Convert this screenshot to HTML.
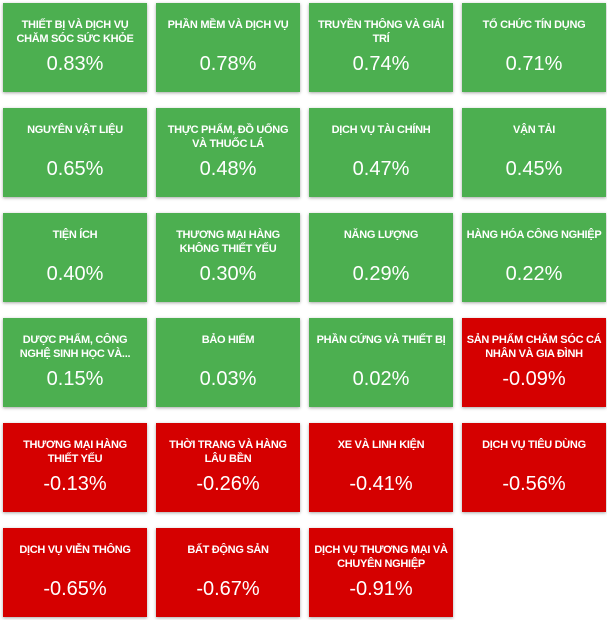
<!DOCTYPE html>
<html><head><meta charset="utf-8"><style>
body{margin:0;width:607px;height:620px;background:#fff;position:relative;font-family:"Liberation Sans",Arial,sans-serif;overflow:hidden}
.t{position:absolute;width:144px;height:89px;color:#fff;box-shadow:0 1px 3px rgba(0,0,0,.35)}
.g{background:#4caf50}.r{background:#d50000}
.n{position:absolute;left:-10px;right:-10px;top:15px;text-align:center;font-weight:bold;font-size:11px;line-height:14px;letter-spacing:-0.3px;white-space:nowrap}
.v{position:absolute;left:0;right:0;top:49px;text-align:center;font-size:20px;line-height:24px}
</style></head><body>
<div class="t g" style="left:3px;top:3px"><div class="n">THIẾT BỊ VÀ DỊCH VỤ<br>CHĂM SÓC SỨC KHỎE</div><div class="v">0.83%</div></div>
<div class="t g" style="left:156px;top:3px"><div class="n">PHẦN MỀM VÀ DỊCH VỤ</div><div class="v">0.78%</div></div>
<div class="t g" style="left:309px;top:3px"><div class="n">TRUYỀN THÔNG VÀ GIẢI<br>TRÍ</div><div class="v">0.74%</div></div>
<div class="t g" style="left:462px;top:3px"><div class="n">TỔ CHỨC TÍN DỤNG</div><div class="v">0.71%</div></div>
<div class="t g" style="left:3px;top:108px"><div class="n">NGUYÊN VẬT LIỆU</div><div class="v">0.65%</div></div>
<div class="t g" style="left:156px;top:108px"><div class="n">THỰC PHẨM, ĐỒ UỐNG<br>VÀ THUỐC LÁ</div><div class="v">0.48%</div></div>
<div class="t g" style="left:309px;top:108px"><div class="n">DỊCH VỤ TÀI CHÍNH</div><div class="v">0.47%</div></div>
<div class="t g" style="left:462px;top:108px"><div class="n">VẬN TẢI</div><div class="v">0.45%</div></div>
<div class="t g" style="left:3px;top:213px"><div class="n">TIỆN ÍCH</div><div class="v">0.40%</div></div>
<div class="t g" style="left:156px;top:213px"><div class="n">THƯƠNG MẠI HÀNG<br>KHÔNG THIẾT YẾU</div><div class="v">0.30%</div></div>
<div class="t g" style="left:309px;top:213px"><div class="n">NĂNG LƯỢNG</div><div class="v">0.29%</div></div>
<div class="t g" style="left:462px;top:213px"><div class="n">HÀNG HÓA CÔNG NGHIỆP</div><div class="v">0.22%</div></div>
<div class="t g" style="left:3px;top:318px"><div class="n">DƯỢC PHẨM, CÔNG<br>NGHỆ SINH HỌC VÀ...</div><div class="v">0.15%</div></div>
<div class="t g" style="left:156px;top:318px"><div class="n">BẢO HIỂM</div><div class="v">0.03%</div></div>
<div class="t g" style="left:309px;top:318px"><div class="n">PHẦN CỨNG VÀ THIẾT BỊ</div><div class="v">0.02%</div></div>
<div class="t r" style="left:462px;top:318px"><div class="n">SẢN PHẨM CHĂM SÓC CÁ<br>NHÂN VÀ GIA ĐÌNH</div><div class="v">-0.09%</div></div>
<div class="t r" style="left:3px;top:423px"><div class="n">THƯƠNG MẠI HÀNG<br>THIẾT YẾU</div><div class="v">-0.13%</div></div>
<div class="t r" style="left:156px;top:423px"><div class="n">THỜI TRANG VÀ HÀNG<br>LÂU BỀN</div><div class="v">-0.26%</div></div>
<div class="t r" style="left:309px;top:423px"><div class="n">XE VÀ LINH KIỆN</div><div class="v">-0.41%</div></div>
<div class="t r" style="left:462px;top:423px"><div class="n">DỊCH VỤ TIÊU DÙNG</div><div class="v">-0.56%</div></div>
<div class="t r" style="left:3px;top:528px"><div class="n">DỊCH VỤ VIỄN THÔNG</div><div class="v">-0.65%</div></div>
<div class="t r" style="left:156px;top:528px"><div class="n">BẤT ĐỘNG SẢN</div><div class="v">-0.67%</div></div>
<div class="t r" style="left:309px;top:528px"><div class="n">DỊCH VỤ THƯƠNG MẠI VÀ<br>CHUYÊN NGHIỆP</div><div class="v">-0.91%</div></div>
</body></html>
